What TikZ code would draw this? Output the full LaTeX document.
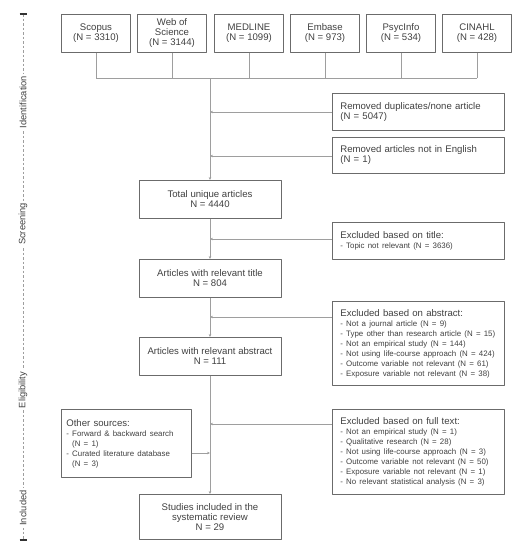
\documentclass[tikz,border=0pt]{standalone}
\usepackage{fontspec}
\setmainfont{Liberation Sans}
\usetikzlibrary{arrows.meta}
\definecolor{txtgray}{gray}{0.25}
\definecolor{boxgray}{gray}{0.42}
\definecolor{linegray}{gray}{0.62}
\newcommand{\smalllist}{\fontsize{7.9}{10}\selectfont}
\newcommand{\exitem}[1]{\mbox{\smalllist #1}}

\begin{document}
\begin{tikzpicture}[x=1pt,y=-1pt,line join=round,>={Stealth[length=3pt,width=2.6pt]},
	every node/.style={text=txtgray,font=\fontsize{9.6}{10}\selectfont}]
	\tikzset{box/.style={draw=boxgray,line width=0.7pt,align=center,inner sep=2pt},
		srcbox/.style={box,anchor=north,minimum width=69pt,minimum height=38pt},
		mainbox/.style={box,anchor=north,minimum width=142pt,minimum height=38pt},
		sidebox/.style={box,anchor=north west,align=left,inner xsep=8pt,text width=156pt},
		flow/.style={draw=linegray,line width=0.7pt},
		stage/.style={rotate=90,fill=white,inner sep=2pt,font=\fontsize{9.3}{10}\selectfont}}
	\useasboundingbox (0,0) rectangle (530,550);
	% databases
	\foreach \nm/\cx/\txt in {scopus/96/{Scopus\\(N = 3310)},wos/172/{Web of\\Science\\(N = 3144)},
		medline/249/{MEDLINE\\(N = 1099)},embase/325/{Embase\\(N = 973)},
		psycinfo/401/{PsycInfo\\(N = 534)},cinahl/477/{CINAHL\\(N = 428)}}
		\node[srcbox] (\nm) at (\cx,14) {\txt};
	\coordinate (join) at (210,78);
	\foreach \nm in {scopus,wos,medline,embase,psycinfo,cinahl}
		\draw[flow] (\nm.south) -- (\nm.south |- join);
	\draw[flow] (scopus.south |- join) -- (cinahl.south |- join);
	% main column
	\node[mainbox] (total) at (210,180) {Total unique articles\\N = 4440};
	\node[mainbox] (title) at (210,259) {Articles with relevant title\\N = 804};
	\node[mainbox] (abstr) at (210,337) {Articles with relevant abstract\\N = 111};
	\node[mainbox,minimum height=45pt] (incl) at (210,494) {Studies included in the\\systematic review\\N = 29};
	\draw[flow,->] (join) -- (total);
	\draw[flow,->] (total) -- (title);
	\draw[flow,->] (title) -- (abstr);
	\draw[flow,->] (abstr) -- (incl);
	% removed and excluded
	\node[sidebox,minimum height=37pt] (dup) at (332,93) {Removed duplicates/none article\\(N = 5047)};
	\node[sidebox,minimum height=36pt] (eng) at (332,137) {Removed articles not in English\\(N = 1)};
	\node[sidebox,minimum height=37pt] (extitle) at (332,222) {Excluded based on title:\\
		\exitem{- Topic not relevant (N = 3636)}};
	\node[sidebox,minimum height=84pt] (exabs) at (332,301) {Excluded based on abstract:\\
		\exitem{- Not a journal article (N = 9)}\\
		\exitem{- Type other than research article (N = 15)}\\
		\exitem{- Not an empirical study (N = 144)}\\
		\exitem{- Not using life-course approach (N = 424)}\\
		\exitem{- Outcome variable not relevant (N = 61)}\\
		\exitem{- Exposure variable not relevant (N = 38)}};
	\node[sidebox,minimum height=85pt] (exfull) at (332,409) {Excluded based on full text:\\
		\exitem{- Not an empirical study (N = 1)}\\
		\exitem{- Qualitative research (N = 28)}\\
		\exitem{- Not using life-course approach (N = 3)}\\
		\exitem{- Outcome variable not relevant (N = 50)}\\
		\exitem{- Exposure variable not relevant (N = 1)}\\
		\exitem{- No relevant statistical analysis (N = 3)}};
	\foreach \nm/\dy in {dup/19,eng/19,extitle/17,exabs/16,exfull/15}{
		\coordinate (p\nm) at ([yshift=-\dy pt]\nm.north west);
		\draw[flow,->] (p\nm) -- (p\nm -| total);
	}
	% other sources
	\node[box,anchor=north west,align=left,inner xsep=5pt,text width=120pt,minimum height=68pt] (other) at (61,409) {Other sources:\\
		\exitem{- Forward \& backward search}\\\exitem{\phantom{- }(N = 1)}\\
		\exitem{- Curated literature database}\\\exitem{\phantom{- }(N = 3)}};
	\coordinate (pother) at ([yshift=-44pt]other.north east);
	\draw[flow,->] (pother) -- (pother -| total);
	% stages
	\coordinate (axtop) at (23,14);
	\coordinate (axbot) at (23,540);
	\draw[linegray,line width=0.5pt,dash pattern=on 2.5pt off 2pt] (axtop) -- (axbot);
	\draw[black!80,line width=1.3pt] ([xshift=-3.5pt]axtop) -- ([xshift=3.5pt]axtop);
	\draw[black!80,line width=1.3pt] ([xshift=-3.5pt]axbot) -- ([xshift=3.5pt]axbot);
	\node[stage] (sident) at (23,102) {Identification};
	\node[stage] (sscreen) at (23,224) {Screening};
	\node[stage] (selig) at (23,390) {Eligibility};
	\node[stage] (sincl) at (23,508) {Included};
\end{tikzpicture}
\end{document}
